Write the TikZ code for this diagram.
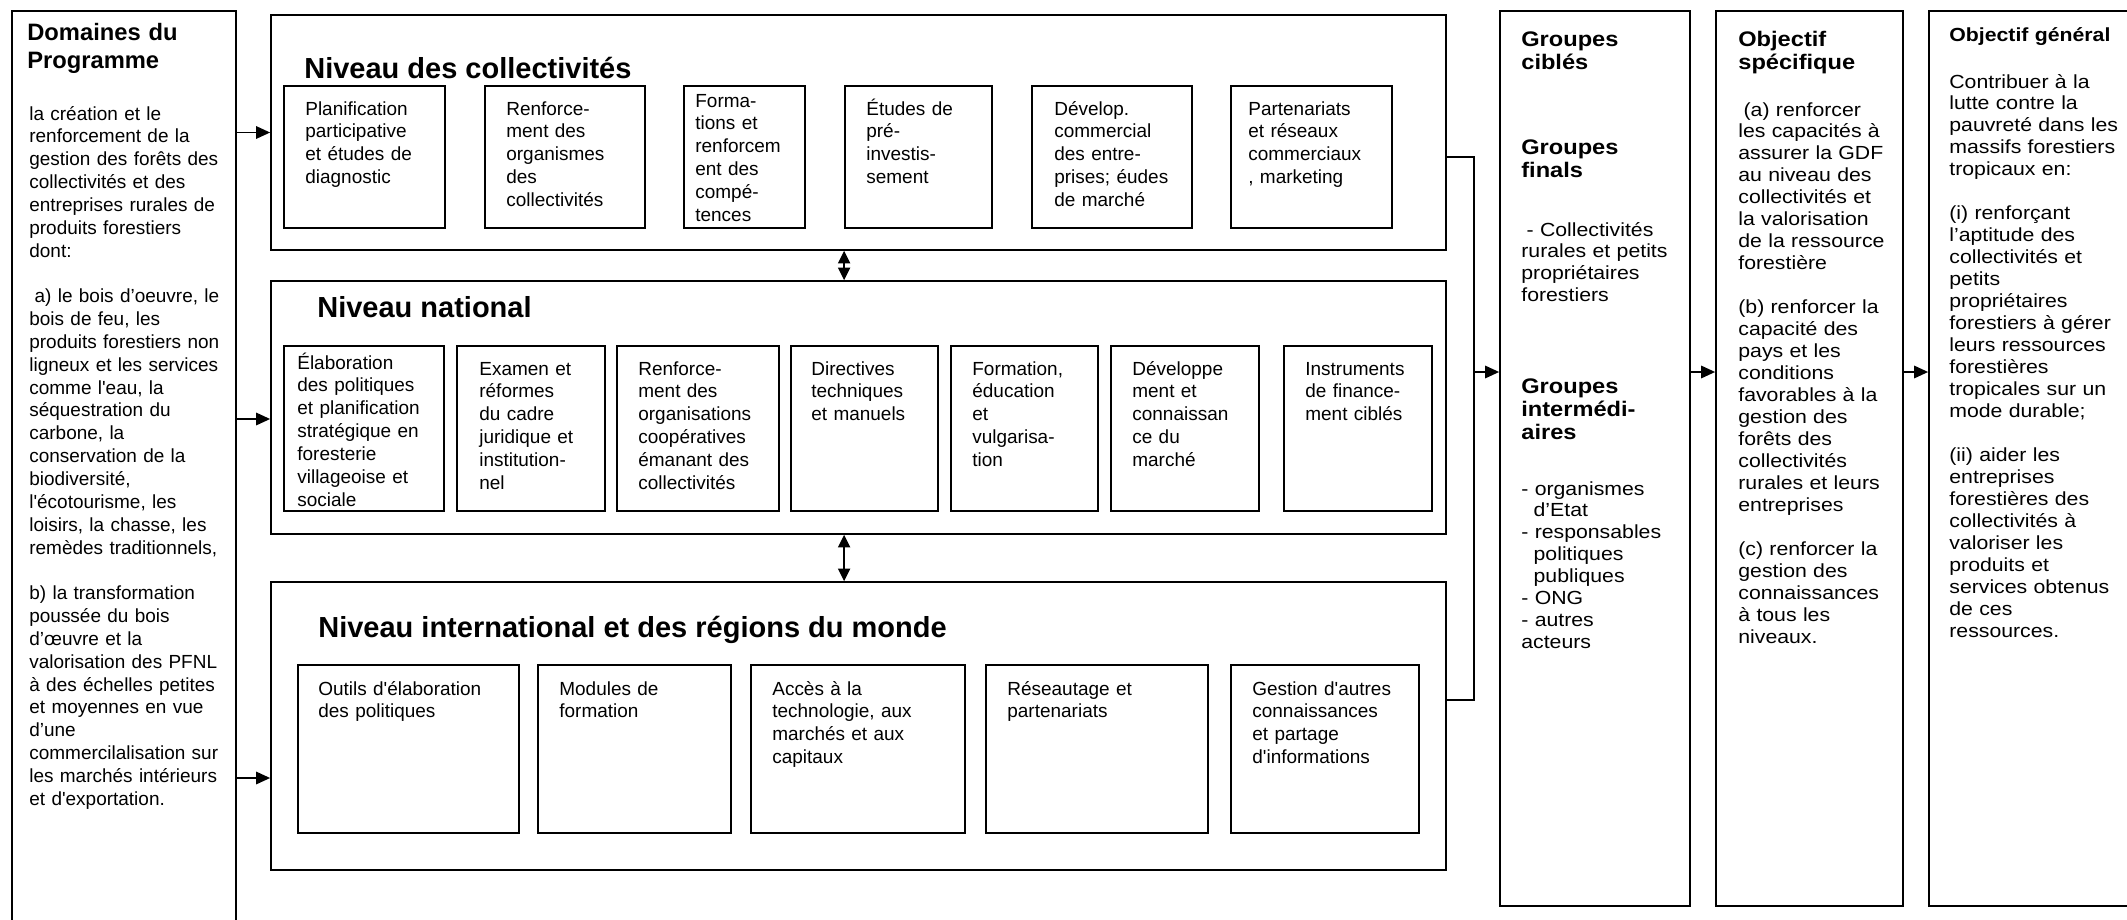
\documentclass[tikz,border=0pt]{standalone}
\usepackage{fontspec}
\setmainfont{Liberation Sans}
\newfontfamily\widefont[FakeStretch=1.12]{Liberation Sans}
\usepackage{tikz}
\usetikzlibrary{positioning,fit,arrows.meta}
\tikzset{cadre/.style={draw,line width=1pt,inner sep=0pt},
  soustxt/.style={anchor=base west,align=left,inner sep=0pt,text width=40mm,font=\fontsize{10.8}{13}\selectfont},
  entete/.style={anchor=base west,align=left,inner sep=0pt,text width=45mm,font=\fontsize{13.5}{16}\selectfont\bfseries},
  niveau/.style={anchor=base west,inner sep=0pt,font=\fontsize{16.5}{19}\selectfont\bfseries},
  coltxt/.style={anchor=base west,align=left,inner sep=0pt,text width=40mm,font=\widefont\fontsize{10.8}{12.5}\selectfont},
  colhead/.style={anchor=base west,align=left,inner sep=0pt,text width=40mm,font=\widefont\fontsize{12}{13.2}\selectfont\bfseries},
  fleche/.style={-{Triangle[length=2.8mm,width=2.5mm]},line width=0.9pt},
  fleched/.style={{Triangle[length=2.5mm,width=2.4mm]}-{Triangle[length=2.5mm,width=2.4mm]},line width=0.9pt},
  lien/.style={line width=0.9pt}}

\begin{document}
\begin{tikzpicture}[x=0.2mm,y=-0.2mm]
    \useasboundingbox (0,0) rectangle (2127,919);
    \clip (0,0) rectangle (2127,919);

    % grands cadres
    \node[cadre,fit={(12,11) (236,940)}] (dom) {};
    \node[cadre,fit={(271,15) (1446,250)}] (coll) {};
    \node[cadre,fit={(271,281) (1446,534)}] (nat) {};
    \node[cadre,fit={(271,582) (1446,870)}] (intl) {};
    \node[cadre,fit={(1500,11) (1690,906)}] (cibles) {};
    \node[cadre,fit={(1716,11) (1903,906)}] (objspec) {};
    \node[cadre,fit={(1929,11) (2140,906)}] (objgen) {};

    % petits cadres
    \foreach \n/\a/\b in {1/284/445,2/485/645,3/684/805,4/845/992,5/1032/1192,6/1231/1392}
        \node[cadre,fit={(\a,86) (\b,228)}] (cb\n) {};
    \foreach \n/\a/\b in {1/284/444,2/457/605,3/617/779,4/791/938,5/951/1098,6/1111/1259,7/1284/1432}
        \node[cadre,fit={(\a,346) (\b,511)}] (nb\n) {};
    \foreach \n/\a/\b in {1/298/519,2/538/731,3/751/965,4/986/1208,5/1231/1419}
        \node[cadre,fit={(\a,665) (\b,833)}] (ib\n) {};

    % colonne de gauche
    \node[entete] (hdom) at (27,40) {Domaines du\\Programme};
    \node[soustxt,text width=50mm] (tdom) at (29,120) {la création et le\\renforcement de la\\gestion des forêts des\\collectivités et des\\entreprises rurales de\\produits forestiers\\dont:\\[13pt]\hspace*{3pt}a) le bois d’oeuvre, le\\bois de feu, les\\produits forestiers non\\ligneux et les services\\comme l\textquotesingle eau, la\\séquestration du\\carbone, la\\conservation de la\\biodiversité,\\l\textquotesingle écotourisme, les\\loisirs, la chasse, les\\remèdes traditionnels,\\[13pt]b) la transformation\\poussée du bois\\d’œuvre et la\\valorisation des PFNL\\à des échelles petites\\et moyennes en vue\\d’une\\commercilalisation sur\\les marchés intérieurs\\et d\textquotesingle exportation.};

    % niveaux
    \node[niveau] (tcoll) at (304,78) {Niveau des collectivités};
    \node[niveau] (tnat) at (317,317) {Niveau national};
    \node[niveau] (tintl) at (318,637) {Niveau international et des régions du monde};

    \node[soustxt] (ct1) at (305,115) {Planification\\participative\\et études de\\diagnostic};
    \node[soustxt] (ct2) at (506,115) {Renforce-\\ment des\\organismes\\des\\collectivités};
    \node[soustxt] (ct3) at (695,107) {Forma-\\tions et\\renforcem\\ent des\\compé-\\tences};
    \node[soustxt] (ct4) at (866,115) {Études de\\pré-\\investis-\\sement};
    \node[soustxt] (ct5) at (1054,115) {Dévelop.\\commercial\\des entre-\\prises; éudes\\de marché};
    \node[soustxt] (ct6) at (1248,115) {Partenariats\\et réseaux\\commerciaux\\, marketing};

    \node[soustxt] (nt1) at (297,369) {Élaboration\\des politiques\\et planification\\stratégique en\\foresterie\\villageoise et\\sociale};
    \node[soustxt] (nt2) at (479,375) {Examen et\\réformes\\du cadre\\juridique et\\institution-\\nel};
    \node[soustxt] (nt3) at (638,375) {Renforce-\\ment des\\organisations\\coopératives\\émanant des\\collectivités};
    \node[soustxt] (nt4) at (811,375) {Directives\\techniques\\et manuels};
    \node[soustxt] (nt5) at (972,375) {Formation,\\éducation\\et\\vulgarisa-\\tion};
    \node[soustxt] (nt6) at (1132,375) {Développe\\ment et\\connaissan\\ce du\\marché};
    \node[soustxt] (nt7) at (1305,375) {Instruments\\de finance-\\ment ciblés};

    \node[soustxt] (it1) at (318,695) {Outils d\textquotesingle élaboration\\des politiques};
    \node[soustxt] (it2) at (559,695) {Modules de\\formation};
    \node[soustxt] (it3) at (772,695) {Accès à la\\technologie, aux\\marchés et aux\\capitaux};
    \node[soustxt] (it4) at (1007,695) {Réseautage et\\partenariats};
    \node[soustxt] (it5) at (1252,695) {Gestion d\textquotesingle autres\\connaissances\\et partage\\d\textquotesingle informations};

    % colonnes de droite
    \node[colhead] (hcib1) at (1521,46) {Groupes\\ciblés};
    \node[colhead] (hcib2) at (1521,154) {Groupes\\finals};
    \node[coltxt] (tcib1) at (1521,236) {\hspace*{3pt}- Collectivités\\rurales et petits\\propriétaires\\forestiers};
    \node[colhead] (hcib3) at (1521,393) {Groupes\\intermédi-\\aires};
    \node[coltxt] (tcib2) at (1521,495) {- organismes\\\hspace*{7pt}d’Etat\\- responsables\\\hspace*{7pt}politiques\\\hspace*{7pt}publiques\\- ONG\\- autres\\acteurs};

    \node[colhead] (hspec) at (1738,46) {Objectif\\spécifique};
    \node[coltxt] (tspec) at (1738,116) {\hspace*{3pt}(a) renforcer\\les capacités à\\assurer la GDF\\au niveau des\\collectivités et\\la valorisation\\de la ressource\\forestière\\[12.5pt](b) renforcer la\\capacité des\\pays et les\\conditions\\favorables à la\\gestion des\\forêts des\\collectivités\\rurales et leurs\\entreprises\\[12.5pt](c) renforcer la\\gestion des\\connaissances\\à tous les\\niveaux.};

    \node[colhead,font=\widefont\fontsize{10.8}{13}\selectfont\bfseries] (hgen) at (1949,41) {Objectif général};
    \node[coltxt] (tgen) at (1949,88) {Contribuer à la\\lutte contre la\\pauvreté dans les\\massifs forestiers\\tropicaux en:\\[12.5pt](i) renforçant\\l’aptitude des\\collectivités et\\petits\\propriétaires\\forestiers à gérer\\leurs ressources\\forestières\\tropicales sur un\\mode durable;\\[12.5pt](ii) aider les\\entreprises\\forestières des\\collectivités à\\valoriser les\\produits et\\services obtenus\\de ces\\ressources.};

    % fleches
    \coordinate (p2) at (0,419);
    \coordinate (p3) at (0,778);
    \coordinate (b1) at (1474,157);
    \coordinate (b2) at (1474,700);
    \coordinate (m) at (1474,372);
    \draw[fleche] (dom.east |- coll.west) -- (coll.west);
    \draw[fleche] (dom.east |- p2) -- (nat.west |- p2);
    \draw[fleche] (dom.east |- p3) -- (intl.west |- p3);
    \draw[fleched] (coll.south -| cb4.west) -- (nat.north -| cb4.west);
    \draw[fleched] (nat.south -| cb4.west) -- (intl.north -| cb4.west);
    \draw[lien] (coll.east |- b1) -- (b1) -- (b2) -- (intl.east |- b2);
    \draw[fleche] (m) -- (cibles.west |- m);
    \draw[fleche] (cibles.east |- m) -- (objspec.west |- m);
    \draw[fleche] (objspec.east |- m) -- (objgen.west |- m);
\end{tikzpicture}
\end{document}
